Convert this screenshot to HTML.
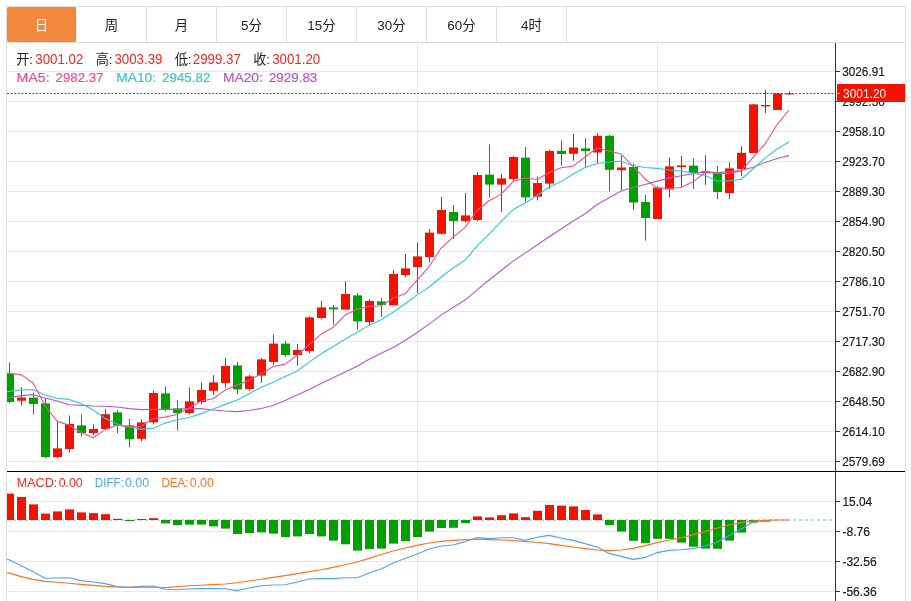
<!DOCTYPE html>
<html lang="zh-CN">
<head>
<meta charset="utf-8">
<title>K线图</title>
<style>
html,body{margin:0;padding:0;background:#fff;}
body{width:911px;height:601px;overflow:hidden;position:relative;font-family:"Liberation Sans", "Noto Sans CJK SC", sans-serif;}
#wrap{position:absolute;left:6px;top:6px;width:898px;height:600px;border:1px solid #dddddd;border-bottom:none;box-sizing:content-box;}
#tabs{position:absolute;left:0;top:0;width:898px;height:35px;border-bottom:1px solid #dddddd;display:flex;}
.tab{box-sizing:border-box;width:70px;height:35px;border-right:1px solid #dddddd;font-size:13.4px;line-height:37px;text-align:center;color:#222;}
.tab.on{background:#f1883c;color:#fff;border-right-color:#f2f2f2;border-radius:2px;}
</style>
</head>
<body>
<div id="wrap"><div id="tabs"><div class="tab on">日</div><div class="tab">周</div><div class="tab">月</div><div class="tab">5分</div><div class="tab">15分</div><div class="tab">30分</div><div class="tab">60分</div><div class="tab">4时</div></div></div>
<svg width="911" height="601" viewBox="0 0 911 601" style="position:absolute;left:0;top:0">
<defs><clipPath id="plot"><rect x="7" y="43" width="828" height="558"/></clipPath></defs>
<g shape-rendering="crispEdges" stroke="#dfeaf2" stroke-width="1">
<line x1="7" y1="71.5" x2="835" y2="71.5"/>
<line x1="7" y1="101.5" x2="835" y2="101.5"/>
<line x1="7" y1="131.5" x2="835" y2="131.5"/>
<line x1="7" y1="161.5" x2="835" y2="161.5"/>
<line x1="7" y1="191.5" x2="835" y2="191.5"/>
<line x1="7" y1="221.5" x2="835" y2="221.5"/>
<line x1="7" y1="251.5" x2="835" y2="251.5"/>
<line x1="7" y1="281.5" x2="835" y2="281.5"/>
<line x1="7" y1="311.5" x2="835" y2="311.5"/>
<line x1="7" y1="341.5" x2="835" y2="341.5"/>
<line x1="7" y1="371.5" x2="835" y2="371.5"/>
<line x1="7" y1="401.5" x2="835" y2="401.5"/>
<line x1="7" y1="431.5" x2="835" y2="431.5"/>
<line x1="7" y1="461.5" x2="835" y2="461.5"/>
<line x1="7" y1="501.5" x2="835" y2="501.5"/>
<line x1="7" y1="531.5" x2="835" y2="531.5"/>
<line x1="7" y1="561.5" x2="835" y2="561.5"/>
<line x1="7" y1="591.5" x2="835" y2="591.5"/>
<line x1="417.5" y1="43" x2="417.5" y2="601"/>
<line x1="657.5" y1="43" x2="657.5" y2="601"/>
</g>
<line x1="7" y1="520" x2="835" y2="520" stroke="#b2dbf1" stroke-width="2" stroke-dasharray="3 3" shape-rendering="crispEdges"/>
<g clip-path="url(#plot)">
<rect x="9" y="362.4" width="1" height="40.6" fill="#00a000"/>
<rect x="5" y="373.4" width="9" height="28.6" fill="#00a000"/>
<rect x="21" y="387.2" width="1" height="18.3" fill="#f11200"/>
<rect x="17" y="397.5" width="9" height="3.2" fill="#f11200"/>
<rect x="33" y="392.4" width="1" height="22.2" fill="#00a000"/>
<rect x="29" y="397.6" width="9" height="6.4" fill="#00a000"/>
<rect x="45" y="398" width="1" height="60" fill="#00a000"/>
<rect x="41" y="403.4" width="9" height="53.6" fill="#00a000"/>
<rect x="57" y="421" width="1" height="37" fill="#f11200"/>
<rect x="53" y="448.4" width="9" height="8.6" fill="#f11200"/>
<rect x="69" y="415.6" width="1" height="37" fill="#f11200"/>
<rect x="65" y="424" width="9" height="25" fill="#f11200"/>
<rect x="81" y="414.4" width="1" height="22" fill="#00a000"/>
<rect x="77" y="425.4" width="9" height="7.6" fill="#00a000"/>
<rect x="93" y="424.4" width="1" height="10.6" fill="#f11200"/>
<rect x="89" y="429" width="9" height="4" fill="#f11200"/>
<rect x="105" y="409.2" width="1" height="19.8" fill="#f11200"/>
<rect x="101" y="414.2" width="9" height="14.8" fill="#f11200"/>
<rect x="117" y="410" width="1" height="23.4" fill="#00a000"/>
<rect x="113" y="412.4" width="9" height="13" fill="#00a000"/>
<rect x="129" y="419" width="1" height="28" fill="#00a000"/>
<rect x="125" y="425.4" width="9" height="13.8" fill="#00a000"/>
<rect x="141" y="419.4" width="1" height="21.6" fill="#f11200"/>
<rect x="137" y="422.4" width="9" height="16.4" fill="#f11200"/>
<rect x="153" y="390.6" width="1" height="33.8" fill="#f11200"/>
<rect x="149" y="393" width="9" height="29.4" fill="#f11200"/>
<rect x="165" y="386.6" width="1" height="24.8" fill="#00a000"/>
<rect x="161" y="393.4" width="9" height="16" fill="#00a000"/>
<rect x="177" y="400.4" width="1" height="30.2" fill="#00a000"/>
<rect x="173" y="408.4" width="9" height="4.6" fill="#00a000"/>
<rect x="189" y="387.4" width="1" height="27" fill="#f11200"/>
<rect x="185" y="401.4" width="9" height="11.6" fill="#f11200"/>
<rect x="201" y="382.4" width="1" height="21.6" fill="#f11200"/>
<rect x="197" y="390" width="9" height="12" fill="#f11200"/>
<rect x="213" y="375.2" width="1" height="19.8" fill="#f11200"/>
<rect x="209" y="382.4" width="9" height="8.4" fill="#f11200"/>
<rect x="225" y="358.2" width="1" height="29.4" fill="#f11200"/>
<rect x="221" y="366" width="9" height="17" fill="#f11200"/>
<rect x="237" y="362" width="1" height="32" fill="#00a000"/>
<rect x="233" y="365.4" width="9" height="24" fill="#00a000"/>
<rect x="249" y="375" width="1" height="16" fill="#f11200"/>
<rect x="245" y="376.4" width="9" height="12.6" fill="#f11200"/>
<rect x="261" y="358" width="1" height="25" fill="#f11200"/>
<rect x="257" y="359.4" width="9" height="16.2" fill="#f11200"/>
<rect x="273" y="334.4" width="1" height="30.6" fill="#f11200"/>
<rect x="269" y="343.6" width="9" height="18.4" fill="#f11200"/>
<rect x="285" y="341" width="1" height="16" fill="#00a000"/>
<rect x="281" y="343.6" width="9" height="11.4" fill="#00a000"/>
<rect x="297" y="344" width="1" height="21.6" fill="#f11200"/>
<rect x="293" y="350" width="9" height="5" fill="#f11200"/>
<rect x="309" y="316.4" width="1" height="37" fill="#f11200"/>
<rect x="305" y="317.4" width="9" height="33.6" fill="#f11200"/>
<rect x="321" y="301" width="1" height="18.6" fill="#f11200"/>
<rect x="317" y="307.4" width="9" height="10.6" fill="#f11200"/>
<rect x="333" y="305" width="1" height="20" fill="#00a000"/>
<rect x="329" y="307.4" width="9" height="2" fill="#00a000"/>
<rect x="345" y="281" width="1" height="28.6" fill="#f11200"/>
<rect x="341" y="294" width="9" height="15.6" fill="#f11200"/>
<rect x="357" y="293" width="1" height="36.6" fill="#00a000"/>
<rect x="353" y="295.4" width="9" height="26" fill="#00a000"/>
<rect x="369" y="299.4" width="1" height="26" fill="#f11200"/>
<rect x="365" y="301" width="9" height="21" fill="#f11200"/>
<rect x="381" y="298" width="1" height="19" fill="#00a000"/>
<rect x="377" y="301.4" width="9" height="3.6" fill="#00a000"/>
<rect x="393" y="270" width="1" height="35.4" fill="#f11200"/>
<rect x="389" y="274" width="9" height="31.4" fill="#f11200"/>
<rect x="405" y="254" width="1" height="23" fill="#f11200"/>
<rect x="401" y="268.4" width="9" height="6.6" fill="#f11200"/>
<rect x="417" y="242.4" width="1" height="50.6" fill="#f11200"/>
<rect x="413" y="256.4" width="9" height="10.6" fill="#f11200"/>
<rect x="429" y="229" width="1" height="33.4" fill="#f11200"/>
<rect x="425" y="232.6" width="9" height="24.4" fill="#f11200"/>
<rect x="441" y="197" width="1" height="37.5" fill="#f11200"/>
<rect x="437" y="210" width="9" height="23.8" fill="#f11200"/>
<rect x="453" y="205" width="1" height="34" fill="#00a000"/>
<rect x="449" y="212" width="9" height="9" fill="#00a000"/>
<rect x="465" y="193" width="1" height="29.5" fill="#f11200"/>
<rect x="461" y="215.4" width="9" height="5.6" fill="#f11200"/>
<rect x="477" y="172" width="1" height="49" fill="#f11200"/>
<rect x="473" y="175" width="9" height="45" fill="#f11200"/>
<rect x="489" y="144.4" width="1" height="53.2" fill="#00a000"/>
<rect x="485" y="174.6" width="9" height="10" fill="#00a000"/>
<rect x="501" y="174" width="1" height="38" fill="#f11200"/>
<rect x="497" y="178.4" width="9" height="6.2" fill="#f11200"/>
<rect x="513" y="156" width="1" height="25.4" fill="#f11200"/>
<rect x="509" y="157" width="9" height="22" fill="#f11200"/>
<rect x="525" y="147" width="1" height="54.6" fill="#00a000"/>
<rect x="521" y="157.6" width="9" height="39.8" fill="#00a000"/>
<rect x="537" y="176.4" width="1" height="24" fill="#f11200"/>
<rect x="533" y="183" width="9" height="13.6" fill="#f11200"/>
<rect x="549" y="149.6" width="1" height="39.4" fill="#f11200"/>
<rect x="545" y="151" width="9" height="32.6" fill="#f11200"/>
<rect x="561" y="140.5" width="1" height="25.2" fill="#00a000"/>
<rect x="557" y="150.8" width="9" height="3.2" fill="#00a000"/>
<rect x="573" y="134" width="1" height="26.7" fill="#f11200"/>
<rect x="569" y="147.5" width="9" height="6.3" fill="#f11200"/>
<rect x="585" y="138" width="1" height="29" fill="#00a000"/>
<rect x="581" y="148.4" width="9" height="2.6" fill="#00a000"/>
<rect x="597" y="132.8" width="1" height="30.2" fill="#f11200"/>
<rect x="593" y="135.8" width="9" height="16.7" fill="#f11200"/>
<rect x="609" y="135" width="1" height="56.6" fill="#00a000"/>
<rect x="605" y="135.8" width="9" height="34" fill="#00a000"/>
<rect x="621" y="155.5" width="1" height="34.5" fill="#f11200"/>
<rect x="617" y="167.5" width="9" height="2.7" fill="#f11200"/>
<rect x="633" y="163.6" width="1" height="46.4" fill="#00a000"/>
<rect x="629" y="167" width="9" height="35.5" fill="#00a000"/>
<rect x="645" y="195" width="1" height="45.6" fill="#00a000"/>
<rect x="641" y="202" width="9" height="16" fill="#00a000"/>
<rect x="657" y="186" width="1" height="33" fill="#f11200"/>
<rect x="653" y="187.6" width="9" height="31.4" fill="#f11200"/>
<rect x="669" y="157.4" width="1" height="40" fill="#f11200"/>
<rect x="665" y="166.4" width="9" height="23" fill="#f11200"/>
<rect x="681" y="156" width="1" height="31" fill="#f11200"/>
<rect x="677" y="165.4" width="9" height="1.6" fill="#f11200"/>
<rect x="693" y="158.6" width="1" height="30.4" fill="#00a000"/>
<rect x="689" y="165.6" width="9" height="7.4" fill="#00a000"/>
<rect x="705" y="155.2" width="1" height="29.6" fill="#f11200"/>
<rect x="701" y="171.4" width="9" height="1.6" fill="#f11200"/>
<rect x="717" y="166" width="1" height="33" fill="#00a000"/>
<rect x="713" y="172" width="9" height="20" fill="#00a000"/>
<rect x="729" y="162.4" width="1" height="36.6" fill="#f11200"/>
<rect x="725" y="168.4" width="9" height="24.6" fill="#f11200"/>
<rect x="741" y="146.4" width="1" height="29.8" fill="#f11200"/>
<rect x="737" y="152.8" width="9" height="16.2" fill="#f11200"/>
<rect x="753" y="104" width="1" height="49" fill="#f11200"/>
<rect x="749" y="104.4" width="9" height="48.6" fill="#f11200"/>
<rect x="765" y="90" width="1" height="23" fill="#f11200"/>
<rect x="761" y="105" width="9" height="1.4" fill="#f11200"/>
<rect x="777" y="93" width="1" height="17" fill="#f11200"/>
<rect x="773" y="93.6" width="9" height="16.4" fill="#f11200"/>
<rect x="789" y="91.5" width="1" height="3.5" fill="#f11200"/>
<rect x="785" y="93.4" width="9" height="1" fill="#f11200"/>
<rect x="5" y="493.6" width="9" height="26.4" fill="#f11200"/>
<rect x="17" y="497" width="9" height="23" fill="#f11200"/>
<rect x="29" y="504.4" width="9" height="15.6" fill="#f11200"/>
<rect x="41" y="513.6" width="9" height="6.4" fill="#f11200"/>
<rect x="53" y="511.4" width="9" height="8.6" fill="#f11200"/>
<rect x="65" y="509.4" width="9" height="10.6" fill="#f11200"/>
<rect x="77" y="512.4" width="9" height="7.6" fill="#f11200"/>
<rect x="89" y="513.2" width="9" height="6.8" fill="#f11200"/>
<rect x="101" y="514.2" width="9" height="5.8" fill="#f11200"/>
<rect x="113" y="518.8" width="9" height="1.2" fill="#f11200"/>
<rect x="125" y="520" width="9" height="1" fill="#00a000"/>
<rect x="137" y="519" width="9" height="1" fill="#f11200"/>
<rect x="149" y="518.2" width="9" height="1.8" fill="#f11200"/>
<rect x="161" y="520" width="9" height="3.4" fill="#00a000"/>
<rect x="173" y="520" width="9" height="5" fill="#00a000"/>
<rect x="185" y="520" width="9" height="4.6" fill="#00a000"/>
<rect x="197" y="520" width="9" height="4.6" fill="#00a000"/>
<rect x="209" y="520" width="9" height="6.4" fill="#00a000"/>
<rect x="221" y="520" width="9" height="8.6" fill="#00a000"/>
<rect x="233" y="520" width="9" height="14" fill="#00a000"/>
<rect x="245" y="520" width="9" height="13" fill="#00a000"/>
<rect x="257" y="520" width="9" height="12.4" fill="#00a000"/>
<rect x="269" y="520" width="9" height="13.6" fill="#00a000"/>
<rect x="281" y="520" width="9" height="17" fill="#00a000"/>
<rect x="293" y="520" width="9" height="16.4" fill="#00a000"/>
<rect x="305" y="520" width="9" height="14" fill="#00a000"/>
<rect x="317" y="520" width="9" height="16.4" fill="#00a000"/>
<rect x="329" y="520" width="9" height="20.6" fill="#00a000"/>
<rect x="341" y="520" width="9" height="24.3" fill="#00a000"/>
<rect x="353" y="520" width="9" height="30.6" fill="#00a000"/>
<rect x="365" y="520" width="9" height="29" fill="#00a000"/>
<rect x="377" y="520" width="9" height="28.6" fill="#00a000"/>
<rect x="389" y="520" width="9" height="23.6" fill="#00a000"/>
<rect x="401" y="520" width="9" height="21.2" fill="#00a000"/>
<rect x="413" y="520" width="9" height="17" fill="#00a000"/>
<rect x="425" y="520" width="9" height="11.6" fill="#00a000"/>
<rect x="437" y="520" width="9" height="8" fill="#00a000"/>
<rect x="449" y="520" width="9" height="7.8" fill="#00a000"/>
<rect x="461" y="520" width="9" height="3" fill="#00a000"/>
<rect x="473" y="516.4" width="9" height="3.6" fill="#f11200"/>
<rect x="485" y="517.4" width="9" height="2.6" fill="#f11200"/>
<rect x="497" y="515.2" width="9" height="4.8" fill="#f11200"/>
<rect x="509" y="513.4" width="9" height="6.6" fill="#f11200"/>
<rect x="521" y="517.2" width="9" height="2.8" fill="#f11200"/>
<rect x="533" y="510.8" width="9" height="9.2" fill="#f11200"/>
<rect x="545" y="505" width="9" height="15" fill="#f11200"/>
<rect x="557" y="505.6" width="9" height="14.4" fill="#f11200"/>
<rect x="569" y="506.4" width="9" height="13.6" fill="#f11200"/>
<rect x="581" y="510" width="9" height="10" fill="#f11200"/>
<rect x="593" y="514.4" width="9" height="5.6" fill="#f11200"/>
<rect x="605" y="520" width="9" height="5" fill="#00a000"/>
<rect x="617" y="520" width="9" height="11.6" fill="#00a000"/>
<rect x="629" y="520" width="9" height="20.8" fill="#00a000"/>
<rect x="641" y="520" width="9" height="23" fill="#00a000"/>
<rect x="653" y="520" width="9" height="18.8" fill="#00a000"/>
<rect x="665" y="520" width="9" height="18.8" fill="#00a000"/>
<rect x="677" y="520" width="9" height="22.6" fill="#00a000"/>
<rect x="689" y="520" width="9" height="26.7" fill="#00a000"/>
<rect x="701" y="520" width="9" height="28.6" fill="#00a000"/>
<rect x="713" y="520" width="9" height="28.8" fill="#00a000"/>
<rect x="725" y="520" width="9" height="20.6" fill="#00a000"/>
<rect x="737" y="520" width="9" height="12.6" fill="#00a000"/>
<rect x="749" y="520" width="9" height="2.6" fill="#00a000"/>
<rect x="761" y="520" width="9" height="1.6" fill="#00a000"/>
</g>
<g clip-path="url(#plot)">
<polyline fill="none" stroke="#b45ac8" stroke-width="1.1" stroke-linejoin="round" points="-2.5,398.2 9.1,397.6 21.1,395.6 33.1,394.6 45.1,398 57.1,401 69.1,404.8 81.1,405.4 93.1,406 105.1,406.2 117.1,407 129.1,408.6 141.1,409.6 153.1,409.2 165.1,409.4 177.1,409.4 189.1,408.6 201.1,408.6 213.1,410 225.1,411 237.1,411.67 249.1,410.45 261.1,408.47 273.1,405.46 285.1,400.45 297.1,395.12 309.1,389.56 321.1,383.52 333.1,377.69 345.1,372.03 357.1,366.15 369.1,359.16 381.1,353.18 393.1,347.53 405.1,340.52 417.1,332.55 429.1,324.14 441.1,315.14 453.1,307.47 465.1,300.05 477.1,289.95 489.1,280.01 501.1,270.49 513.1,261.1 525.1,253.12 537.1,245.07 549.1,236.68 561.1,229.07 573.1,221.05 585.1,213.69 597.1,204.48 609.1,197.71 621.1,191.07 633.1,187.56 645.1,184.55 657.1,181.14 669.1,178.1 681.1,175.72 693.1,173.66 705.1,171.63 717.1,172.44 729.1,171.64 741.1,170.43 753.1,167.31 765.1,162.54 777.1,158.47 789.1,155.66"/>
<polyline fill="none" stroke="#32c8dc" stroke-width="1.1" stroke-linejoin="round" points="-2.5,391.82 9.1,391.4 21.1,390 33.1,389.6 45.1,395 57.1,398.2 69.1,399.4 81.1,403.6 93.1,410 105.1,418.6 117.1,423.92 129.1,427.03 141.1,429.1 153.1,428.42 165.1,423.12 177.1,419.7 189.1,417.49 201.1,413.62 213.1,409.01 225.1,404.37 237.1,400.09 249.1,393.71 261.1,387.16 273.1,382.16 285.1,376.59 297.1,371.05 309.1,362.14 321.1,353.76 333.1,346.55 345.1,339.18 357.1,332.21 369.1,325.13 381.1,319.72 393.1,312.22 405.1,303.78 417.1,294.9 429.1,286.99 441.1,277.03 453.1,268.06 465.1,260.08 477.1,245.98 489.1,233.87 501.1,221.6 513.1,209.56 525.1,202.97 537.1,195.49 549.1,187.04 561.1,181.61 573.1,174.05 585.1,167.47 597.1,163.49 609.1,162.07 621.1,161.32 633.1,165.65 645.1,167.49 657.1,168.41 669.1,170 681.1,171.02 693.1,173.1 705.1,175.45 717.1,181.05 729.1,181.03 741.1,179.28 753.1,168.72 765.1,158.1 777.1,149.04 789.1,141.74"/>
<polyline fill="none" stroke="#f0508c" stroke-width="1.1" stroke-linejoin="round" points="-2.5,373.04 9.1,373.4 21.1,374.6 33.1,383 45.1,406 57.1,421.12 69.1,425.18 81.1,432.19 93.1,437.7 105.1,429.62 117.1,425.02 129.1,427.17 141.1,426.26 153.1,418.64 165.1,417.13 177.1,414.55 189.1,407.98 201.1,401.05 213.1,398.7 225.1,390.08 237.1,385.13 249.1,380.13 261.1,374.11 273.1,366.48 285.1,364.11 297.1,355.28 309.1,344.59 321.1,334.1 333.1,327.47 345.1,315.1 357.1,309.14 369.1,306.44 381.1,305.68 393.1,298.16 405.1,293.65 417.1,280.14 429.1,266.53 441.1,248.04 453.1,237.1 465.1,227.44 477.1,210.54 489.1,200.78 501.1,194.13 513.1,181.59 525.1,178.07 537.1,179.5 549.1,172.54 561.1,167.73 573.1,166.09 585.1,157.04 597.1,147.98 609.1,151.09 621.1,154.05 633.1,166.32 645.1,178.96 657.1,188.16 669.1,188.57 681.1,187.49 693.1,181.67 705.1,172.45 717.1,173.44 729.1,173.5 741.1,170.91 753.1,157.38 765.1,143.82 777.1,124.55 789.1,109.98"/>
<polyline fill="none" stroke="#4ca4f8" stroke-width="1.1" stroke-linejoin="round" points="-2.5,557.87 9.1,559.7 21.1,565.8 33.1,571.7 45.1,578.2 57.1,578 69.1,577.8 81.1,580.6 93.1,582 105.1,583.6 117.1,586.6 129.1,587.4 141.1,586.4 153.1,586 165.1,589.2 177.1,589.8 189.1,589 201.1,588.6 213.1,588.6 225.1,588.8 237.1,590.6 249.1,588 261.1,585.8 273.1,585 285.1,584.8 297.1,582 309.1,579 321.1,578.6 333.1,578.6 345.1,577.7 357.1,577.8 369.1,573 381.1,569 393.1,563 405.1,558.6 417.1,554 429.1,549 441.1,546 453.1,545 465.1,541.6 477.1,537.6 489.1,538.6 501.1,537.8 513.1,537.7 525.1,540.4 537.1,537.2 549.1,535.4 561.1,538 573.1,540.4 585.1,543.6 597.1,547 609.1,553.4 621.1,556.4 633.1,559.4 645.1,557.4 657.1,552.6 669.1,550.4 681.1,549.7 693.1,548.6 705.1,546 717.1,542.3 729.1,535.6 741.1,529 753.1,522 765.1,521.2"/>
<polyline fill="none" stroke="#ff7020" stroke-width="1.1" stroke-linejoin="round" points="-2.5,571.79 9.1,572.9 21.1,576.6 33.1,579.4 45.1,581.4 57.1,582.2 69.1,583.2 81.1,584.4 93.1,585.4 105.1,586.4 117.1,587 129.1,587.2 141.1,587.2 153.1,587.2 165.1,587.6 177.1,586.8 189.1,585.8 201.1,585.2 213.1,584.6 225.1,584 237.1,582.8 249.1,581 261.1,579.2 273.1,577.4 285.1,575.6 297.1,573.6 309.1,571.6 321.1,569.8 333.1,567.4 345.1,564.8 357.1,562 369.1,558.4 381.1,554.6 393.1,551 405.1,548 417.1,545.4 429.1,543 441.1,541.4 453.1,540.4 465.1,539.6 477.1,539.2 489.1,539.6 501.1,540 513.1,540.5 525.1,541.6 537.1,542.2 549.1,543.6 561.1,545.4 573.1,547 585.1,548.6 597.1,550 609.1,550.6 621.1,550 633.1,548.4 645.1,545.6 657.1,542.6 669.1,540 681.1,537.9 693.1,534.6 705.1,531.6 717.1,528 729.1,525 741.1,522.6 753.1,521 765.1,520.4 777.1,520 789.1,520"/>
</g>
<line x1="7" y1="93.5" x2="835" y2="93.5" stroke="#f11200" stroke-width="1" stroke-dasharray="2 1.6"/>
<g shape-rendering="crispEdges">
<rect x="7" y="471" width="898" height="1" fill="#000"/>
<rect x="835" y="43" width="1" height="558" fill="#333333"/>
<rect x="836" y="71" width="4" height="1" fill="#333333"/>
<rect x="836" y="101" width="4" height="1" fill="#333333"/>
<rect x="836" y="131" width="4" height="1" fill="#333333"/>
<rect x="836" y="161" width="4" height="1" fill="#333333"/>
<rect x="836" y="191" width="4" height="1" fill="#333333"/>
<rect x="836" y="221" width="4" height="1" fill="#333333"/>
<rect x="836" y="251" width="4" height="1" fill="#333333"/>
<rect x="836" y="281" width="4" height="1" fill="#333333"/>
<rect x="836" y="311" width="4" height="1" fill="#333333"/>
<rect x="836" y="341" width="4" height="1" fill="#333333"/>
<rect x="836" y="371" width="4" height="1" fill="#333333"/>
<rect x="836" y="401" width="4" height="1" fill="#333333"/>
<rect x="836" y="431" width="4" height="1" fill="#333333"/>
<rect x="836" y="461" width="4" height="1" fill="#333333"/>
<rect x="836" y="501" width="4" height="1" fill="#333333"/>
<rect x="836" y="531" width="4" height="1" fill="#333333"/>
<rect x="836" y="561" width="4" height="1" fill="#333333"/>
<rect x="836" y="591" width="4" height="1" fill="#333333"/>
</g>
<g font-family='"Liberation Sans", "Noto Sans CJK SC", sans-serif' font-size="12.3" fill="#1c1c1c" stroke="#1c1c1c" stroke-width="0.2">
<text x="842.2" y="76.1" textLength="42.6" lengthAdjust="spacingAndGlyphs">3026.91</text>
<text x="842.2" y="106.1" textLength="42.6" lengthAdjust="spacingAndGlyphs">2992.50</text>
<text x="842.2" y="136.1" textLength="42.6" lengthAdjust="spacingAndGlyphs">2958.10</text>
<text x="842.2" y="166.1" textLength="42.6" lengthAdjust="spacingAndGlyphs">2923.70</text>
<text x="842.2" y="196.1" textLength="42.6" lengthAdjust="spacingAndGlyphs">2889.30</text>
<text x="842.2" y="226.1" textLength="42.6" lengthAdjust="spacingAndGlyphs">2854.90</text>
<text x="842.2" y="256.1" textLength="42.6" lengthAdjust="spacingAndGlyphs">2820.50</text>
<text x="842.2" y="286.1" textLength="42.6" lengthAdjust="spacingAndGlyphs">2786.10</text>
<text x="842.2" y="316.1" textLength="42.6" lengthAdjust="spacingAndGlyphs">2751.70</text>
<text x="842.2" y="346.1" textLength="42.6" lengthAdjust="spacingAndGlyphs">2717.30</text>
<text x="842.2" y="376.1" textLength="42.6" lengthAdjust="spacingAndGlyphs">2682.90</text>
<text x="842.2" y="406.1" textLength="42.6" lengthAdjust="spacingAndGlyphs">2648.50</text>
<text x="842.2" y="436.1" textLength="42.6" lengthAdjust="spacingAndGlyphs">2614.10</text>
<text x="842.2" y="466.1" textLength="42.6" lengthAdjust="spacingAndGlyphs">2579.69</text>
<text x="842.4" y="506.1" textLength="29.8" lengthAdjust="spacingAndGlyphs">15.04</text>
<text x="842.4" y="536.1" textLength="27.7" lengthAdjust="spacingAndGlyphs">-8.76</text>
<text x="842.4" y="566.1" textLength="34.2" lengthAdjust="spacingAndGlyphs">-32.56</text>
<text x="842.4" y="596.1" textLength="34.2" lengthAdjust="spacingAndGlyphs">-56.36</text>
</g>
<rect x="837" y="84" width="68" height="18" fill="#f11200" shape-rendering="crispEdges"/>
<rect x="836" y="93" width="4" height="1" fill="#f9b0a8" shape-rendering="crispEdges"/>
<text x="843.0" y="98.2" font-family='"Liberation Sans", "Noto Sans CJK SC", sans-serif' font-size="12.5" fill="#fff" textLength="43.2" lengthAdjust="spacingAndGlyphs">3001.20</text>
<g font-family='"Liberation Sans", "Noto Sans CJK SC", sans-serif'>
<text x="16.3" y="63.6" fill="#222" font-size="13.2">开</text>
<text x="29.3" y="63.6" fill="#222" font-size="13.2">:</text>
<text x="35.300000000000004" y="64.2" fill="#f0281e" font-size="13.8" textLength="48.0" lengthAdjust="spacingAndGlyphs">3001.02</text>
<text x="95.7" y="63.6" fill="#222" font-size="13.2">高</text>
<text x="108.7" y="63.6" fill="#222" font-size="13.2">:</text>
<text x="114.45" y="64.2" fill="#f0281e" font-size="13.8" textLength="48.0" lengthAdjust="spacingAndGlyphs">3003.39</text>
<text x="174.7" y="63.6" fill="#222" font-size="13.2">低</text>
<text x="187.7" y="63.6" fill="#222" font-size="13.2">:</text>
<text x="192.79999999999998" y="64.2" fill="#f0281e" font-size="13.8" textLength="48.0" lengthAdjust="spacingAndGlyphs">2999.37</text>
<text x="253.29999999999998" y="63.6" fill="#222" font-size="13.2">收</text>
<text x="266.3" y="63.6" fill="#222" font-size="13.2">:</text>
<text x="272.2" y="64.2" fill="#f0281e" font-size="13.8" textLength="48.0" lengthAdjust="spacingAndGlyphs">3001.20</text>
<text x="16.6" y="82" fill="#f0508c" font-size="13.2" textLength="33.0" lengthAdjust="spacingAndGlyphs" stroke="#f0508c" stroke-width="0.2">MA5:</text>
<text x="55.5" y="82" fill="#f0508c" font-size="13.2" textLength="48.0" lengthAdjust="spacingAndGlyphs" stroke="#f0508c" stroke-width="0.2">2982.37</text>
<text x="116.3" y="82" fill="#32c8dc" font-size="13.2" textLength="39.8" lengthAdjust="spacingAndGlyphs" stroke="#32c8dc" stroke-width="0.2">MA10:</text>
<text x="162.0" y="82" fill="#32c8dc" font-size="13.2" textLength="48.4" lengthAdjust="spacingAndGlyphs" stroke="#32c8dc" stroke-width="0.2">2945.82</text>
<text x="222.9" y="82" fill="#b45ac8" font-size="13.2" textLength="40.0" lengthAdjust="spacingAndGlyphs" stroke="#b45ac8" stroke-width="0.2">MA20:</text>
<text x="268.9" y="82" fill="#b45ac8" font-size="13.2" textLength="48.4" lengthAdjust="spacingAndGlyphs" stroke="#b45ac8" stroke-width="0.2">2929.83</text>
<text x="16.8" y="486.6" fill="#f0281e" font-size="12.3" textLength="40.4" lengthAdjust="spacingAndGlyphs">MACD:</text>
<text x="58.7" y="486.6" fill="#f0281e" font-size="12.3" textLength="24.0" lengthAdjust="spacingAndGlyphs">0.00</text>
<text x="94.8" y="486.6" fill="#4ca4f8" font-size="12.3" textLength="29.0" lengthAdjust="spacingAndGlyphs">DIFF:</text>
<text x="125.0" y="486.6" fill="#4ca4f8" font-size="12.3" textLength="24.0" lengthAdjust="spacingAndGlyphs">0.00</text>
<text x="161.4" y="486.6" fill="#ff7020" font-size="12.3" textLength="27.0" lengthAdjust="spacingAndGlyphs">DEA:</text>
<text x="189.8" y="486.6" fill="#ff7020" font-size="12.3" textLength="24.0" lengthAdjust="spacingAndGlyphs">0.00</text>
</g>
</svg>
</body>
</html>
